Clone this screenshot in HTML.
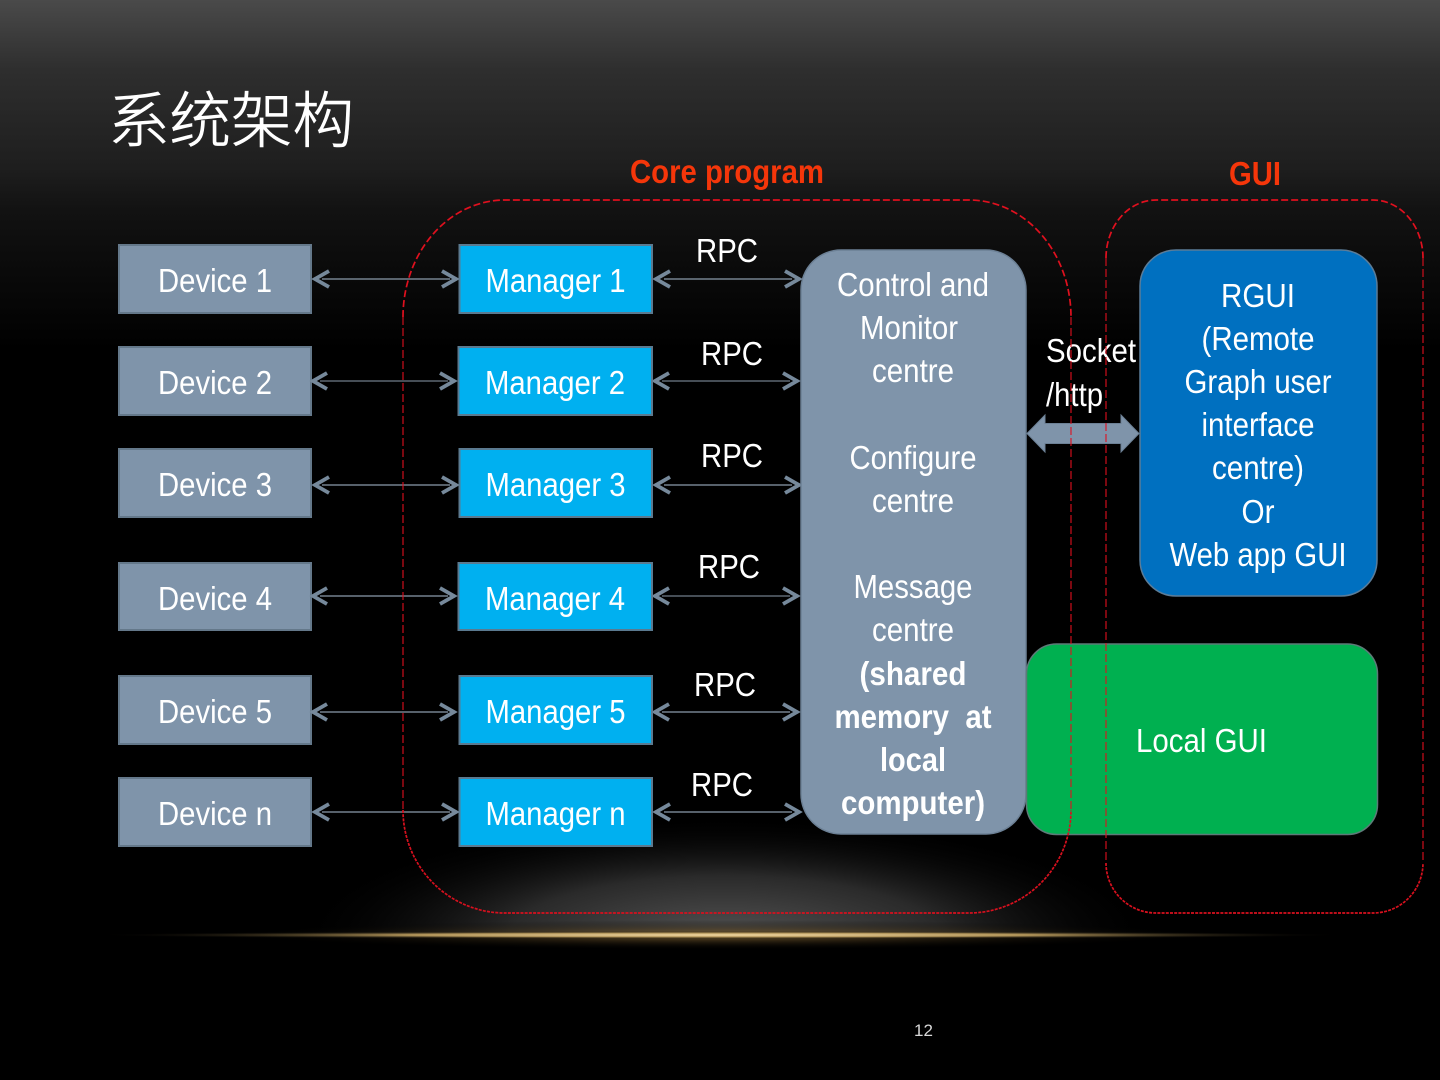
<!DOCTYPE html>
<html>
<head>
<meta charset="utf-8">
<style>
html,body{margin:0;padding:0;background:#000}
svg{display:block}
text{font-family:"Liberation Sans Narrow","Liberation Sans","Noto Sans CJK SC",sans-serif;fill:#fff}
.t{font-size:33px;text-anchor:middle}
.b{font-weight:bold}
.d{fill:#7f94aa;stroke:#64788a;stroke-width:2}
.m{fill:#00b0f0;stroke:#5b7a90;stroke-width:2}
.l{stroke:#8b9bab;stroke-width:1.300;fill:none}
.h{stroke:#76899b;stroke-width:3.800;fill:none}
.r1{stroke:#e0101e;stroke-width:1.100;stroke-dasharray:8 3;fill:none}
.r2{stroke:#e0101e;stroke-width:1.700;stroke-dasharray:7 3;fill:none}
.r3{stroke:#d8101e;stroke-width:1.700;stroke-dasharray:3 1.200;fill:none}
</style>
</head>
<body>
<svg width="1440" height="1080" viewBox="0 0 1440 1080" xmlns="http://www.w3.org/2000/svg">
<defs>
<linearGradient id="top" x1="0" y1="0" x2="0" y2="1">
<stop offset="0" stop-color="#4a4a4a"/>
<stop offset="0.2" stop-color="#2e2e2e"/>
<stop offset="0.48" stop-color="#1e1e1e"/>
<stop offset="0.6" stop-color="#121212"/>
<stop offset="1" stop-color="#000"/>
</linearGradient>
<radialGradient id="glow">
<stop offset="0" stop-color="#525252"/>
<stop offset="0.5" stop-color="#2a2a2a"/>
<stop offset="1" stop-color="#000" stop-opacity="0"/>
</radialGradient>
<radialGradient id="gold">
<stop offset="0" stop-color="#f6dca6"/>
<stop offset="0.5" stop-color="#b09358"/>
<stop offset="1" stop-color="#000" stop-opacity="0"/>
</radialGradient>
<radialGradient id="gold2">
<stop offset="0" stop-color="#7d6030"/>
<stop offset="1" stop-color="#000" stop-opacity="0"/>
</radialGradient>
<clipPath id="above"><rect x="0" y="0" width="1440" height="936"/></clipPath>
</defs>
<rect width="1440" height="1080" fill="#000"/>
<rect width="1440" height="350" fill="url(#top)"/>
<ellipse cx="725" cy="936" rx="430" ry="120" fill="url(#glow)" clip-path="url(#above)"/>
<ellipse cx="720" cy="935" rx="490" ry="15" fill="url(#gold2)"/>
<ellipse cx="720" cy="935" rx="630" ry="4" fill="url(#gold)"/>

<text x="108" y="142" font-size="61" textLength="246" lengthAdjust="spacingAndGlyphs" stroke="#fff" stroke-width="0.700" style="font-family:'Noto Sans CJK SC','WenQuanYi Zen Hei',sans-serif;font-weight:300">系统架构</text>

<text x="630" y="183" class="b" font-size="33" textLength="194" lengthAdjust="spacingAndGlyphs" style="fill:#f5360a">Core program</text>
<text x="1229" y="185" class="b" font-size="33" textLength="52" lengthAdjust="spacingAndGlyphs" style="fill:#f5360a">GUI</text>

<!-- Devices -->
<rect class="d" x="119" y="245" width="192" height="68"/>
<rect class="d" x="119" y="347" width="192" height="68"/>
<rect class="d" x="119" y="449" width="192" height="68"/>
<rect class="d" x="119" y="563" width="192" height="67"/>
<rect class="d" x="119" y="676" width="192" height="68"/>
<rect class="d" x="119" y="778" width="192" height="68"/>
<text class="t" x="215" y="292" textLength="114" lengthAdjust="spacingAndGlyphs">Device 1</text>
<text class="t" x="215" y="394" textLength="114" lengthAdjust="spacingAndGlyphs">Device 2</text>
<text class="t" x="215" y="496" textLength="114" lengthAdjust="spacingAndGlyphs">Device 3</text>
<text class="t" x="215" y="610" textLength="114" lengthAdjust="spacingAndGlyphs">Device 4</text>
<text class="t" x="215" y="723" textLength="114" lengthAdjust="spacingAndGlyphs">Device 5</text>
<text class="t" x="215" y="825" textLength="114" lengthAdjust="spacingAndGlyphs">Device n</text>

<!-- Left arrows -->
<g>
<path class="l" d="M322 279H450"/><path class="h" d="M329 271L315 279L329 287M442 271L456 279L442 287"/>
<path class="l" d="M320 381H448" style="stroke-width:1"/><path class="h" d="M327 373L313 381L327 389M440 373L454 381L440 389"/>
<path class="l" d="M322 485H450"/><path class="h" d="M329 477L315 485L329 493M442 477L456 485L442 493"/>
<path class="l" d="M320 596H448"/><path class="h" d="M327 588L313 596L327 604M440 588L454 596L440 604"/>
<path class="l" d="M320 712H448"/><path class="h" d="M327 704L313 712L327 720M440 704L454 712L440 720"/>
<path class="l" d="M322 812H450"/><path class="h" d="M329 804L315 812L329 820M442 804L456 812L442 820"/>
</g>
<!-- Right arrows -->
<g>
<path class="l" d="M664 279H792"/><path class="h" d="M670 271L656 279L670 287M785 271L799 279L785 287"/>
<path class="l" d="M662 381H790" style="stroke-width:1"/><path class="h" d="M669 373L655 381L669 389M783 373L797 381L783 389"/>
<path class="l" d="M664 485H792"/><path class="h" d="M670 477L656 485L670 493M785 477L799 485L785 493"/>
<path class="l" d="M662 596H790" style="stroke-width:1.100"/><path class="h" d="M669 588L655 596L669 604M783 588L797 596L783 604"/>
<path class="l" d="M662 712H790"/><path class="h" d="M669 704L655 712L669 720M783 704L797 712L783 720"/>
<path class="l" d="M664 812H792"/><path class="h" d="M670 804L656 812L670 820M785 804L799 812L785 820"/>
</g>

<!-- Managers -->
<rect class="m" x="459.500" y="245" width="192.500" height="68"/>
<rect class="m" x="458.500" y="347" width="193.500" height="68"/>
<rect class="m" x="459.500" y="449" width="192.500" height="68"/>
<rect class="m" x="458.500" y="563" width="193.500" height="67"/>
<rect class="m" x="459.500" y="676" width="192.500" height="68"/>
<rect class="m" x="459.500" y="778" width="192.500" height="68"/>
<text class="t" x="555.500" y="292" textLength="140" lengthAdjust="spacingAndGlyphs">Manager 1</text>
<text class="t" x="555" y="394" textLength="140" lengthAdjust="spacingAndGlyphs">Manager 2</text>
<text class="t" x="555.500" y="496" textLength="140" lengthAdjust="spacingAndGlyphs">Manager 3</text>
<text class="t" x="555" y="610" textLength="140" lengthAdjust="spacingAndGlyphs">Manager 4</text>
<text class="t" x="555.500" y="723" textLength="140" lengthAdjust="spacingAndGlyphs">Manager 5</text>
<text class="t" x="555.500" y="825" textLength="140" lengthAdjust="spacingAndGlyphs">Manager n</text>

<!-- RPC labels -->
<text class="t" x="727" y="262" textLength="62" lengthAdjust="spacingAndGlyphs">RPC</text>
<text class="t" x="732" y="365" textLength="62" lengthAdjust="spacingAndGlyphs">RPC</text>
<text class="t" x="732" y="467" textLength="62" lengthAdjust="spacingAndGlyphs">RPC</text>
<text class="t" x="729" y="578" textLength="62" lengthAdjust="spacingAndGlyphs">RPC</text>
<text class="t" x="725" y="696" textLength="62" lengthAdjust="spacingAndGlyphs">RPC</text>
<text class="t" x="722" y="796" textLength="62" lengthAdjust="spacingAndGlyphs">RPC</text>

<!-- Control centre -->
<rect x="801" y="250" width="225" height="584" rx="40" ry="40" fill="#7f94aa" stroke="#6c8095" stroke-width="1.500"/>
<text class="t" x="913" y="296" textLength="152" lengthAdjust="spacingAndGlyphs">Control and</text>
<text class="t" x="909" y="339" textLength="98" lengthAdjust="spacingAndGlyphs">Monitor</text>
<text class="t" x="913" y="382" textLength="82" lengthAdjust="spacingAndGlyphs">centre</text>
<text class="t" x="913" y="469" textLength="127" lengthAdjust="spacingAndGlyphs">Configure</text>
<text class="t" x="913" y="512" textLength="82" lengthAdjust="spacingAndGlyphs">centre</text>
<text class="t" x="913" y="598" textLength="119" lengthAdjust="spacingAndGlyphs">Message</text>
<text class="t" x="913" y="641" textLength="82" lengthAdjust="spacingAndGlyphs">centre</text>
<text class="t b" x="913" y="685" textLength="107" lengthAdjust="spacingAndGlyphs">(shared</text>
<text class="t b" x="913" y="728" textLength="157" lengthAdjust="spacingAndGlyphs" xml:space="preserve">memory  at</text>
<text class="t b" x="913" y="771" textLength="66" lengthAdjust="spacingAndGlyphs">local</text>
<text class="t b" x="913" y="814" textLength="144" lengthAdjust="spacingAndGlyphs">computer)</text>

<!-- RGUI -->
<rect x="1140" y="250" width="237" height="346" rx="36" ry="36" fill="#0070c0" stroke="#5b7c98" stroke-width="1.500"/>
<text class="t" x="1258" y="307" textLength="74" lengthAdjust="spacingAndGlyphs">RGUI</text>
<text class="t" x="1258" y="350" textLength="113" lengthAdjust="spacingAndGlyphs">(Remote</text>
<text class="t" x="1258" y="393" textLength="147" lengthAdjust="spacingAndGlyphs">Graph user</text>
<text class="t" x="1258" y="436" textLength="113" lengthAdjust="spacingAndGlyphs">interface</text>
<text class="t" x="1258" y="479" textLength="92" lengthAdjust="spacingAndGlyphs">centre)</text>
<text class="t" x="1258" y="523" textLength="33" lengthAdjust="spacingAndGlyphs">Or</text>
<text class="t" x="1258" y="566" textLength="177" lengthAdjust="spacingAndGlyphs">Web app GUI</text>

<!-- Local GUI -->
<rect x="1026.500" y="644" width="351" height="190.500" rx="30" ry="30" fill="#00b050" stroke="#5d7a78" stroke-width="1.500"/>
<text class="t" x="1201.500" y="752" textLength="131" lengthAdjust="spacingAndGlyphs">Local GUI</text>

<!-- Socket arrow -->
<path d="M1027 433.500L1045 415V423.500H1121V415L1139 433.500L1121 452V443.500H1045V452Z" fill="#7f94aa" stroke="#6c8095" stroke-width="1"/>
<text x="1046" y="362" font-size="33" textLength="90" lengthAdjust="spacingAndGlyphs">Socket</text>
<text x="1046" y="406" font-size="33" textLength="57" lengthAdjust="spacingAndGlyphs">/http</text>

<!-- Dashed outlines -->
<path class="r1" d="M403 317V810"/>
<path class="r2" d="M403 317A102 117 0 0 1 505 200H969A102 117 0 0 1 1071 317"/>
<path class="r1" d="M1071 317V810"/>
<path class="r3" d="M403 810A102 103 0 0 0 505 913H969A102 103 0 0 0 1071 810"/>
<path class="r1" d="M1106 258V863"/>
<path class="r2" d="M1106 258A50 58 0 0 1 1156 200H1373A50 58 0 0 1 1423 258"/>
<path class="r1" d="M1423 258V863"/>
<path class="r3" d="M1106 863A50 50 0 0 0 1156 913H1373A50 50 0 0 0 1423 863"/>

<text x="914" y="1036" font-size="17" style="font-family:'Liberation Sans',sans-serif;fill:#d8d8d8">12</text>
</svg>
</body>
</html>
